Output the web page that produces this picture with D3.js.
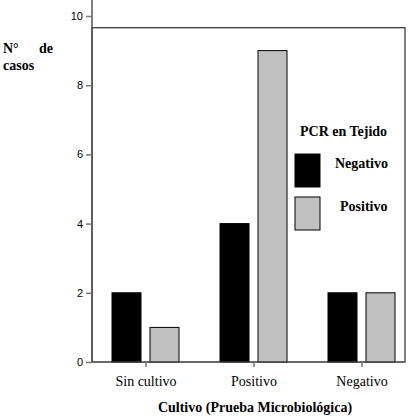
<!DOCTYPE html>
<html><head><meta charset="utf-8">
<script src="https://cdn.jsdelivr.net/npm/d3@7"></script>
<style>body{margin:0;background:#fff}</style>
</head><body><div id="chart"></div>
<script>
const categories = ["Sin cultivo", "Positivo", "Negativo"];
const groups = ["Negativo", "Positivo"];
const negativo = [2, 4, 2];
const positivo = [1, 9, 2];
const yTicks = [0, 2, 4, 6, 8, 10];
const colors = { "Negativo": "#000", "Positivo": "#c0c0c0" };

const data = categories.map((c, i) => ({ cat: c, Negativo: negativo[i], Positivo: positivo[i] }));

const svg = d3.select("#chart").append("svg").attr("width", 419).attr("height", 420);
const serif = "'Liberation Serif', 'Times New Roman', serif";

const x = d3.scaleBand().domain(categories).range([92, 416]);
const x1 = d3.scaleBand().domain(groups).range([20, 87]).paddingInner(0.237);
const y = d3.scaleLinear().domain([0, 10]).range([362, 16]);

// frame
svg.append("rect").attr("x", 92).attr("y", y(9.66)).attr("width", 313).attr("height", 362 - y(9.66))
  .attr("fill", "none").attr("stroke", "#000").attr("stroke-width", 1);

// bars
svg.selectAll("g.cat").data(data).join("g").attr("class", "cat")
  .attr("transform", d => `translate(${x(d.cat)},0)`)
  .selectAll("rect").data(d => groups.map(g => ({ g, v: d[g] }))).join("rect")
  .attr("x", d => x1(d.g)).attr("width", x1.bandwidth())
  .attr("y", d => y(d.v)).attr("height", d => 362 - y(d.v))
  .attr("fill", d => colors[d.g]).attr("stroke", "#000");

// y axis
const yAxis = svg.append("g").attr("transform", "translate(92,0)")
  .call(d3.axisLeft(y).tickValues(yTicks).tickSize(6).tickSizeOuter(0));
yAxis.select(".domain").attr("stroke", "#555").attr("stroke-width", 1.5);
yAxis.selectAll(".tick line").attr("stroke", "#777").attr("stroke-width", 1.5);
yAxis.selectAll("text").attr("font-family", "'Liberation Sans', Arial, sans-serif").attr("font-size", 11).attr("fill", "#000");
yAxis.select(".domain").attr("d", `M0,${y(0)}V0`);

// x axis
const xAxis = svg.append("g").attr("transform", "translate(0,362)")
  .call(d3.axisBottom(x).tickSize(5).tickSizeOuter(0));
xAxis.select(".domain").attr("stroke", "#555").attr("d", "M92,0H405");
xAxis.selectAll(".tick line").attr("stroke", "#777").attr("stroke-width", 1.5);
xAxis.selectAll("text").attr("font-family", serif).attr("font-size", 14).attr("fill", "#000").attr("dy", "1.15em");

// titles
svg.append("text").attr("x", 255).attr("y", 412).attr("text-anchor", "middle")
  .attr("font-family", serif).attr("font-size", 14).attr("font-weight", "bold").text("Cultivo (Prueba Microbiológica)");
svg.append("text").attr("x", 3).attr("y", 53).attr("font-family", serif).attr("font-size", 14).attr("font-weight", "bold").text("N°");
svg.append("text").attr("x", 53).attr("y", 53).attr("font-family", serif).attr("font-size", 14).attr("font-weight", "bold").attr("text-anchor", "end").text("de");
svg.append("text").attr("x", 3).attr("y", 70).attr("font-family", serif).attr("font-size", 14).attr("font-weight", "bold").text("casos");

// legend
const lg = svg.append("g");
lg.append("text").attr("x", 300).attr("y", 136).attr("font-family", serif).attr("font-size", 14).attr("font-weight", "bold").text("PCR en Tejido");
groups.forEach((g, i) => {
  lg.append("rect").attr("x", 295).attr("y", 154 + i * 43).attr("width", 25).attr("height", 33)
    .attr("fill", colors[g]).attr("stroke", "#000");
  lg.append("text").attr("x", i === 0 ? 335 : 340).attr("y", 168 + i * 43).attr("font-family", serif)
    .attr("font-size", 14).attr("font-weight", "bold").text(g);
});
</script></body></html>
